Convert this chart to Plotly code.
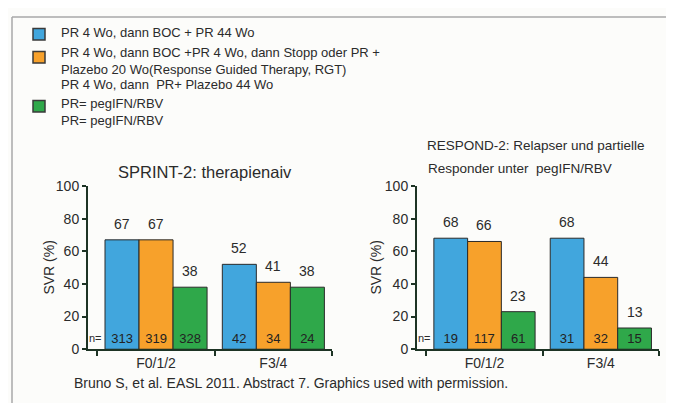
import plotly.graph_objects as go

# ---------------- data ----------------
groups = ["F0/1/2", "F3/4"]
series_colors = ["#41a6dd", "#f7a12b", "#2fa84a"]

legend_entries = [
    "PR 4 Wo, dann BOC + PR 44 Wo",
    "PR 4 Wo, dann BOC +PR 4 Wo, dann Stopp oder PR +<br>Plazebo 20 Wo(Response Guided Therapy, RGT)",
    "PR 4 Wo, dann  PR+ Plazebo 44 Wo",
    "PR= pegIFN/RBV",
    "PR= pegIFN/RBV",
]

sprint_title = "SPRINT-2: therapienaiv"
sprint_blue = [67, 52]
sprint_orange = [67, 41]
sprint_green = [38, 38]
sprint_n_blue = [313, 42]
sprint_n_orange = [319, 34]
sprint_n_green = [328, 24]

respond_title_1 = "RESPOND-2: Relapser und partielle"
respond_title_2 = "Responder unter  pegIFN/RBV"
respond_blue = [68, 68]
respond_orange = [66, 44]
respond_green = [23, 13]
respond_n_blue = [19, 31]
respond_n_orange = [117, 32]
respond_n_green = [61, 15]

y_ticks = [0, 20, 40, 60, 80, 100]
y_title = "SVR (%)"
caption = "Bruno S, et al. EASL 2011. Abstract 7. Graphics used with permission."

# ---------------- layout helpers ----------------
W, H = 674, 403
OFF = 8  # default page body margin
FONT = "Liberation Sans, Arial, Helvetica, sans-serif"
TXT = "#2b2b2b"
AX = "#1d3324"
BW = 0.29  # bar width in axis units


def px(x):
    return (x - OFF) / W


def py(y):
    return 1 - (y - OFF) / H


fig = go.Figure()

charts = [
    ("x", "y", [sprint_blue, sprint_orange, sprint_green],
     [sprint_n_blue, sprint_n_orange, sprint_n_green]),
    ("x2", "y2", [respond_blue, respond_orange, respond_green],
     [respond_n_blue, respond_n_orange, respond_n_green]),
]

annotations = []
xpos = list(range(len(groups)))
for xa, ya, vals, ns in charts:
    for j, (v, n) in enumerate(zip(vals, ns)):
        fig.add_trace(go.Bar(
            x=xpos, y=v, xaxis=xa, yaxis=ya,
            marker=dict(color=series_colors[j], line=dict(color="#2a2a2a", width=1)),
            text=[str(k) for k in n], textposition="inside", insidetextanchor="start",
            insidetextfont=dict(family=FONT, size=13, color="#222"),
            textangle=0, showlegend=False, hoverinfo="skip",
        ))
        for g, val in zip(xpos, v):
            annotations.append(dict(
                x=g + (j - 1) * BW, y=val, xref=xa, yref=ya,
                text=str(val), showarrow=False, xanchor="center",
                yanchor="bottom", yshift=6,
                font=dict(family=FONT, size=14, color=TXT)))
    annotations.append(dict(
        x=-1.5 * BW, y=0, xref=xa, yref=ya, text="n=", showarrow=False,
        xanchor="right", yanchor="bottom", xshift=-1, yshift=3,
        font=dict(family=FONT, size=11, color=TXT)))

axis_common = dict(
    showline=True, linecolor=AX, linewidth=2, showgrid=False, zeroline=False,
    tickfont=dict(family=FONT, size=14, color=TXT),
)
xrange = [-0.58, 1.5]
ydom = [py(355), py(185)]

layout_axes = {}
for name, dom in [("xaxis", [px(88), px(332)]), ("xaxis2", [px(417), px(659)])]:
    layout_axes[name] = dict(
        axis_common, domain=dom, range=xrange, tickmode="array",
        tickvals=xpos, ticktext=groups, ticks="",
        minor=dict(tickmode="linear", tick0=0.5, dtick=1, ticks="outside",
                   ticklen=5, tickwidth=2, tickcolor=AX),
        anchor="y" if name == "xaxis" else "y2", fixedrange=True)
for name, anc in [("yaxis", "x"), ("yaxis2", "x2")]:
    layout_axes[name] = dict(
        axis_common, domain=ydom, range=[0, 100], tickmode="array",
        tickvals=y_ticks, ticks="outside", ticklen=4, tickwidth=1.5,
        tickcolor=AX, anchor=anc, fixedrange=True)

# titles
annotations += [
    dict(x=px(205), y=py(170), text=sprint_title, font=dict(family=FONT, size=16.5, color=TXT)),
    dict(x=px(425), y=py(143), text=respond_title_1, xanchor="left",
         font=dict(family=FONT, size=13.5, color=TXT)),
    dict(x=px(426), y=py(167), text=respond_title_2, xanchor="left",
         font=dict(family=FONT, size=13.5, color=TXT)),
    dict(x=px(49), y=py(270), text=y_title, textangle=-90,
         font=dict(family=FONT, size=14, color=TXT)),
    dict(x=px(376), y=py(270), text=y_title, textangle=-90,
         font=dict(family=FONT, size=14, color=TXT)),
    dict(x=px(72), y=py(390), text=caption, xanchor="left",
         font=dict(family=FONT, size=14, color=TXT)),
]
legend_y = [25, 55, 79, 99, 117]
for t, yy in zip(legend_entries, legend_y):
    annotations.append(dict(x=px(59), y=py(yy), text=t, xanchor="left", align="left",
                            font=dict(family=FONT, size=13, color=TXT)))
for a in annotations:
    a.setdefault("xref", "paper")
    a.setdefault("yref", "paper")
    a.setdefault("showarrow", False)
    a.setdefault("xanchor", "center")
    a.setdefault("yanchor", "middle")

shapes = []
square_y = [21, 45, 96]
for c, yy in zip(series_colors, square_y):
    shapes.append(dict(type="rect", xref="paper", yref="paper",
                       x0=px(33), x1=px(45), y0=py(yy), y1=py(yy + 12),
                       fillcolor=c, line=dict(color="#3a3a3a", width=1.5)))
# frame
for x0, y0, x1, y1 in [(12, 9, 669, 9), (12, 9, 12, 420), (669, 9, 669, 420)]:
    shapes.append(dict(type="line", xref="paper", yref="paper",
                       x0=px(x0), y0=py(y0), x1=px(x1), y1=py(y1),
                       line=dict(color="#a8a8a8", width=1.5)))

fig.update_layout(
    width=W, height=H, autosize=False,
    margin=dict(l=0, r=0, t=0, b=0, pad=0),
    paper_bgcolor="#fcfcfa", plot_bgcolor="rgba(0,0,0,0)",
    barmode="group", bargap=0.13, bargroupgap=0,
    annotations=annotations, shapes=shapes,
    font=dict(family=FONT, color=TXT),
    **layout_axes,
)

fig.write_html("out.html", config={"displayModeBar": False})
